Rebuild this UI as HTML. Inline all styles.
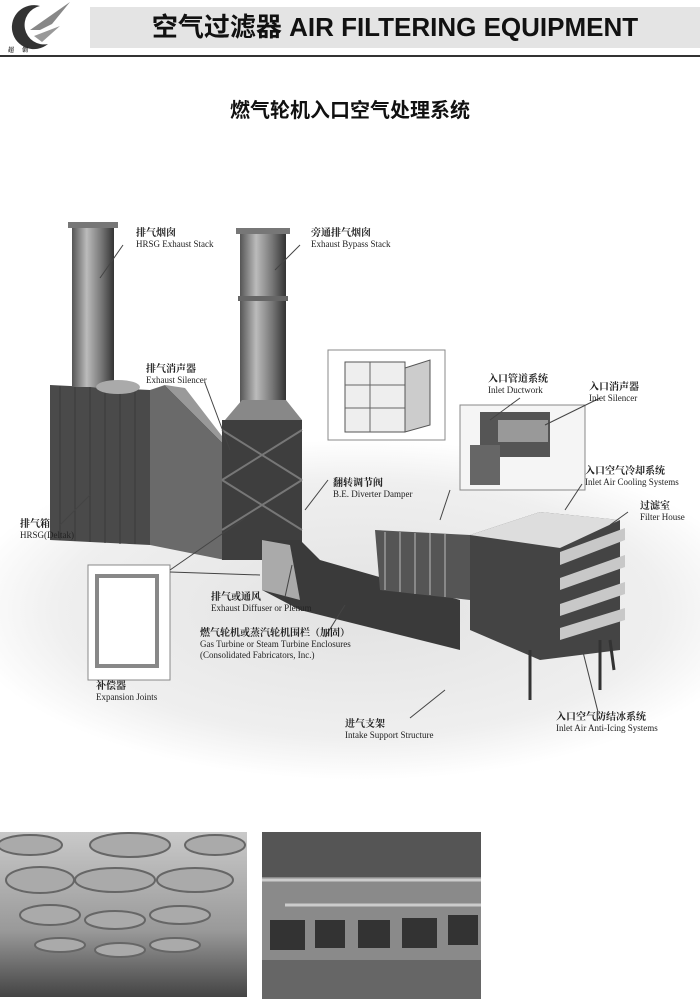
<!DOCTYPE html>
<html><head><meta charset="utf-8"><style>
body{margin:0;width:700px;height:999px;background:#fff;position:relative;overflow:hidden;font-family:"Liberation Serif","Noto Serif CJK SC",serif;}
.l{position:absolute;font-size:9px;line-height:11px;color:#222;white-space:nowrap}
.l b{font-family:"Noto Serif CJK SC",serif;font-weight:bold;font-size:10px}
</style></head><body>
<svg width="700" height="999" style="position:absolute;left:0;top:0">
<defs>
<linearGradient id="cyl" x1="0" x2="1"><stop offset="0" stop-color="#555"/><stop offset=".35" stop-color="#bbb"/><stop offset=".7" stop-color="#777"/><stop offset="1" stop-color="#333"/></linearGradient>
<linearGradient id="ph1" x1="0" y1="0" x2="0" y2="1"><stop offset="0" stop-color="#c9c9c9"/><stop offset=".6" stop-color="#999"/><stop offset="1" stop-color="#444"/></linearGradient>
<radialGradient id="gr" cx=".5" cy=".5" r=".5"><stop offset="0" stop-color="#e2e2e2"/><stop offset=".75" stop-color="#efefef"/><stop offset="1" stop-color="#fff"/></radialGradient>
</defs>
<!-- logo -->
<path d="M40 6 A22 22 0 1 0 48 44 A18 18 0 1 1 40 6Z" fill="#333"/>
<path d="M30 30 L70 2 L52 24 L40 30Z" fill="#888"/>
<path d="M34 36 L60 26 L42 42Z" fill="#999"/>
<text x="8" y="52" font-size="6" font-weight="bold" fill="#222">超</text><text x="22" y="52" font-size="6" font-weight="bold" fill="#222">创</text>
<rect x="90" y="7" width="610" height="41" fill="#e4e4e4"/>
<rect x="0" y="55" width="700" height="2" fill="#333"/>
<!-- ground -->
<ellipse cx="360" cy="610" rx="400" ry="170" fill="url(#gr)"/>
<!-- HRSG box -->
<polygon points="50,385 150,390 150,545 50,540" fill="#4a4a4a"/>
<path d="M60 386 V540 M75 387 V541 M90 387 V542 M105 388 V543 M120 389 V544 M135 389 V544" stroke="#3a3a3a" stroke-width="1"/>
<polygon points="150,390 165,385 225,445 225,560 150,545" fill="#6a6a6a"/>
<polygon points="165,385 185,388 225,440 225,445" fill="#999"/>
<rect x="72" y="222" width="42" height="165" fill="url(#cyl)"/>
<rect x="68" y="222" width="50" height="6" fill="#777"/>
<ellipse cx="118" cy="387" rx="22" ry="7" fill="#aaa"/>
<!-- second stack and silencer -->
<rect x="240" y="228" width="46" height="175" fill="url(#cyl)"/>
<rect x="236" y="228" width="54" height="6" fill="#777"/>
<rect x="238" y="296" width="50" height="5" fill="#666"/>
<polygon points="225,420 242,400 286,400 302,420" fill="#888"/>
<rect x="222" y="420" width="80" height="140" fill="#3e3e3e"/>
<path d="M222 430 L302 480 M302 430 L222 480 M222 480 L302 530 M302 480 L222 530" stroke="#777" stroke-width="2"/>
<!-- duct -->
<polygon points="262,540 300,540 320,560 460,600 460,650 300,610 262,590" fill="#3a3a3a"/>
<polygon points="262,540 290,545 300,600 262,590" fill="#aaa"/>
<polygon points="375,530 470,535 470,600 380,590" fill="#555"/>
<path d="M385 532 L385 590 M400 532 L400 592 M415 533 L415 594 M430 533 L430 595 M445 534 L445 597" stroke="#888" stroke-width="2"/>
<!-- filter house -->
<polygon points="470,535 540,512 620,520 620,650 540,660 470,630" fill="#444"/>
<polygon points="470,535 540,512 620,520 560,548" fill="#ddd"/>
<g fill="#c8c8c8"><polygon points="560,552 625,528 625,540 560,565"/><polygon points="560,578 625,555 625,567 560,590"/><polygon points="560,604 625,582 625,594 560,616"/><polygon points="560,628 625,608 625,620 560,640"/></g>
<path d="M530 650 L530 700 M600 640 L600 690 M610 640 L614 670" stroke="#333" stroke-width="3"/>
<!-- insets -->
<rect x="328" y="350" width="117" height="90" fill="#fff" stroke="#888"/>
<rect x="345" y="362" width="60" height="70" fill="#eee" stroke="#555"/>
<path d="M345 385 H405 M345 408 H405 M370 362 V432" stroke="#666"/>
<polygon points="405,368 430,360 430,425 405,432" fill="#ccc" stroke="#555"/>
<rect x="460" y="405" width="125" height="85" fill="#f5f5f5" stroke="#888"/>
<rect x="480" y="412" width="70" height="45" fill="#555"/>
<rect x="498" y="420" width="50" height="22" fill="#999"/>
<rect x="470" y="445" width="30" height="40" fill="#666"/>
<rect x="88" y="565" width="82" height="115" fill="#fff" stroke="#888"/>
<rect x="97" y="576" width="60" height="90" fill="none" stroke="#888" stroke-width="4"/>
<!-- leaders -->
<g stroke="#444" stroke-width="1" fill="none">
<path d="M123 245 L100 278"/><path d="M300 245 L275 270"/><path d="M205 383 L230 450"/>
<path d="M328 480 L305 510"/><path d="M520 398 L490 420"/><path d="M600 398 L545 425"/>
<path d="M582 484 L565 510"/><path d="M628 512 L610 525"/><path d="M60 525 L90 495"/>
<path d="M170 570 L245 518"/><path d="M170 572 L260 575"/><path d="M285 597 L292 565"/>
<path d="M325 637 L345 605"/><path d="M410 718 L445 690"/><path d="M598 712 L580 640"/>
<path d="M450 490 L440 520"/>
</g>
<!-- bottom photos -->
<rect x="0" y="832" width="247" height="165" fill="url(#ph1)"/>
<g fill="#aaa" stroke="#666" stroke-width="2">
<ellipse cx="40" cy="880" rx="34" ry="13"/><ellipse cx="115" cy="880" rx="40" ry="12"/><ellipse cx="195" cy="880" rx="38" ry="12"/>
<ellipse cx="50" cy="915" rx="30" ry="10"/><ellipse cx="115" cy="920" rx="30" ry="9"/><ellipse cx="180" cy="915" rx="30" ry="9"/>
<ellipse cx="60" cy="945" rx="25" ry="7"/><ellipse cx="120" cy="950" rx="25" ry="7"/><ellipse cx="175" cy="945" rx="25" ry="7"/>
<ellipse cx="30" cy="845" rx="32" ry="10"/><ellipse cx="130" cy="845" rx="40" ry="12"/><ellipse cx="215" cy="845" rx="30" ry="10"/>
</g>
<rect x="262" y="832" width="219" height="167" fill="#8a8a8a"/>
<rect x="262" y="832" width="219" height="45" fill="#555"/>
<rect x="262" y="960" width="219" height="39" fill="#666"/>
<g fill="#333"><rect x="270" y="920" width="35" height="30"/><rect x="315" y="920" width="30" height="28"/><rect x="358" y="920" width="32" height="28"/><rect x="402" y="918" width="35" height="30"/><rect x="448" y="915" width="30" height="30"/></g>
<path d="M262 880 H481 M285 905 H481" stroke="#ccc" stroke-width="3"/>
</svg>
<div style="position:absolute;left:90px;top:7px;width:610px;height:41px;line-height:41px;text-align:center;font-family:'Liberation Sans','Noto Sans CJK SC',sans-serif;font-weight:bold;font-size:26px;color:#111">空气过滤器 AIR FILTERING EQUIPMENT</div>
<div style="position:absolute;left:0;top:94px;width:700px;text-align:center;font-family:'Liberation Sans','Noto Sans CJK SC',sans-serif;font-weight:bold;font-size:20px;color:#111">燃气轮机入口空气处理系统</div>
<div class="l" style="left:136px;top:226px"><b>排气烟囱</b><br>HRSG Exhaust Stack</div>
<div class="l" style="left:311px;top:226px"><b>旁通排气烟囱</b><br>Exhaust Bypass Stack</div>
<div class="l" style="left:146px;top:362px"><b>排气消声器</b><br>Exhaust Silencer</div>
<div class="l" style="left:333px;top:476px"><b>翻转调节阀</b><br>B.E. Diverter Damper</div>
<div class="l" style="left:488px;top:372px"><b>入口管道系统</b><br>Inlet Ductwork</div>
<div class="l" style="left:589px;top:380px"><b>入口消声器</b><br>Inlet Silencer</div>
<div class="l" style="left:585px;top:464px"><b>入口空气冷却系统</b><br>Inlet Air Cooling Systems</div>
<div class="l" style="left:640px;top:499px"><b>过滤室</b><br>Filter House</div>
<div class="l" style="left:20px;top:517px"><b>排气箱</b><br>HRSG(Deltak)</div>
<div class="l" style="left:211px;top:590px"><b>排气或通风</b><br>Exhaust Diffuser or Plenum</div>
<div class="l" style="left:200px;top:626px"><b>燃气轮机或蒸汽轮机围栏（加固）</b><br>Gas Turbine or Steam Turbine Enclosures<br>(Consolidated Fabricators, Inc.)</div>
<div class="l" style="left:96px;top:679px"><b>补偿器</b><br>Expansion Joints</div>
<div class="l" style="left:345px;top:717px"><b>进气支架</b><br>Intake Support Structure</div>
<div class="l" style="left:556px;top:710px"><b>入口空气防结冰系统</b><br>Inlet Air Anti-Icing Systems</div>
</body></html>
